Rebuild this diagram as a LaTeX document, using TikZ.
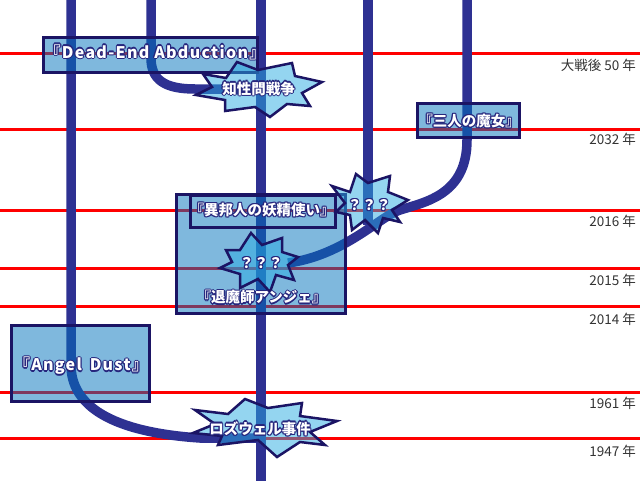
\documentclass[tikz,border=0pt]{standalone}
\usepackage{fontspec}
\setmainfont{Noto Sans CJK JP}
\newfontfamily\latfont[LetterSpace=8]{Noto Sans CJK JP}
\usetikzlibrary{calc}
\definecolor{navy}{RGB}{27,20,100}
\definecolor{olc}{RGB}{38,38,125}
\definecolor{lineblue}{RGB}{46,49,146}
\definecolor{boxblue}{RGB}{0,113,188}
\definecolor{starblue}{RGB}{41,171,226}
\definecolor{yeargray}{RGB}{51,51,51}
\newcommand\olt[1]{{%
  \setbox0=\hbox{#1}%
  \def\cp##1##2{\rlap{\kern##1\raise##2\hbox{\color{olc}\copy0}}}%
  \cp{-1.2pt}{0pt}\cp{1.2pt}{0pt}\cp{0pt}{1.2pt}\cp{0pt}{-1.2pt}%
  \cp{-.85pt}{.85pt}\cp{.85pt}{.85pt}\cp{-.85pt}{-.85pt}\cp{.85pt}{-.85pt}%
  \hbox{\color{white}\copy0}}}
\tikzset{
  redline/.style={draw=red, line width=3},
  conn/.style={draw=lineblue, line width=9.5, line cap=butt},
  tbox/.style={draw=navy, line width=3, fill=boxblue, fill opacity=0.5, inner sep=0},
  obox/.style={draw=navy, line width=3, inner sep=0},
  burst/.style={draw=navy, line width=2.5, fill=starblue, fill opacity=0.5, line join=miter},
  jtitle/.style={inner sep=0, font=\bfseries\fontsize{14.5}{16}\selectfont},
  ltitle/.style={inner sep=0, font=\latfont\bfseries\fontsize{16}{18}\selectfont},
  yr/.style={inner sep=0, anchor=east, text=yeargray, font=\fontsize{13.5}{15}\selectfont}
}
\begin{document}
\begin{tikzpicture}[x=1pt,y=-1pt]
\useasboundingbox (0,0) rectangle (640,480);
% timeline guides
\foreach \yy in {53.3,129.3,210,268.3,306.7,392.3,438.3}
  \draw[redline] (0,\yy) -- (640,\yy);
% coordinates
\coordinate (a0) at (71,-6);
\coordinate (b0) at (151,-6);
\coordinate (c0) at (261,-6);
\coordinate (c1) at (261,486);
\coordinate (d0) at (368,-6);
\coordinate (d1) at (368,225);
\coordinate (e0) at (467,-6);
\coordinate (aend) at (262,438);
\coordinate (bend) at (258,89);
\coordinate (eend) at (288,263);
% lines
\draw[conn] (a0) -- (71,365) .. controls (71,405) and (110,432) .. (200,438) -- (aend);
\draw[conn] (b0) -- (151,58) .. controls (151,80) and (165,89) .. (195,89) -- (bend);
\draw[conn] (c0) -- (c1);
\draw[conn] (d0) -- (d1);
\draw[conn] (e0) -- (467,140) .. controls (467,195) and (425,202) .. (400,210)
   .. controls (380,216) and (345,255) .. (eend);
% boxes
\node[tbox, minimum width=214, minimum height=35] (dead) at (150.5,54.5) {};
\node[tbox, minimum width=102, minimum height=34] (sannin) at (468.5,120.5) {};
\node[tbox, minimum width=169, minimum height=119] (taima) at (261,254) {};
\node[obox, minimum width=145, minimum height=32] (ihou) at (263,211.5) {};
\node[tbox, minimum width=138, minimum height=76] (angel) at (80.5,363.5) {};
% bursts
\filldraw[burst] (203,74) -- (226,78) -- (237,62) -- (258,70) -- (292,63) -- (295,76)
  -- (322,82) -- (302,93) -- (310,106) -- (287,104) -- (270,117) -- (255,107)
  -- (225,111) -- (225,100) -- (196,95) -- (212,87) -- cycle;
\filldraw[burst] (332,186) -- (350,192) -- (356,174) -- (368,183) -- (390,176) -- (388,192)
  -- (408,200) -- (392,210) -- (400,222) -- (383,218) -- (378,233) -- (365,220)
  -- (352,230) -- (350,215) -- (336,212) -- (345,203) -- cycle;
\filldraw[burst] (226,250) -- (240,250) -- (251,233) -- (262,245) -- (282,238) -- (282,252)
  -- (298,257) -- (288,265) -- (294,280) -- (276,275) -- (270,292) -- (258,279)
  -- (240,288) -- (240,274) -- (220,268) -- (232,262) -- cycle;
\filldraw[burst] (195,410) -- (228,414) -- (245,399) -- (268,408) -- (302,403) -- (300,416)
  -- (337,421) -- (310,432) -- (325,445) -- (300,442) -- (277,457) -- (258,440)
  -- (218,445) -- (222,436) -- (193,433) -- (215,424) -- cycle;
% titles
\node[ltitle] (tdead) at (155,52) {\olt{『Dead-End Abduction』}};
\node[ltitle] (tangel) at (81,366) {\olt{『Angel\hspace{3pt} Dust』}};
\node[jtitle] (tsannin) at (469,121) {\olt{『三人の魔女』}};
\node[jtitle] (tihou) at (262,210) {\olt{『異邦人の妖精使い』}};
\node[jtitle] (ttaima) at (261.5,297.5) {\olt{『退魔師アンジェ』}};
\node[jtitle] (tchisei) at (258.5,88.5) {\olt{知性問戦争}};
\node[jtitle] (tq1) at (369,205) {\olt{？？？}};
\node[jtitle] (tq2) at (261,263) {\olt{？？？}};
\node[jtitle] (trosw) at (260,428.5) {\olt{ロズウェル事件}};
% years
\node[yr] (y50) at (636,65.5) {大戦後 50 年};
\node[yr] (y2032) at (636,139) {2032 年};
\node[yr] (y2016) at (636,221) {2016 年};
\node[yr] (y2015) at (636,280.5) {2015 年};
\node[yr] (y2014) at (636,319) {2014 年};
\node[yr] (y1961) at (636,403.5) {1961 年};
\node[yr] (y1947) at (636,451) {1947 年};
\end{tikzpicture}
\end{document}
